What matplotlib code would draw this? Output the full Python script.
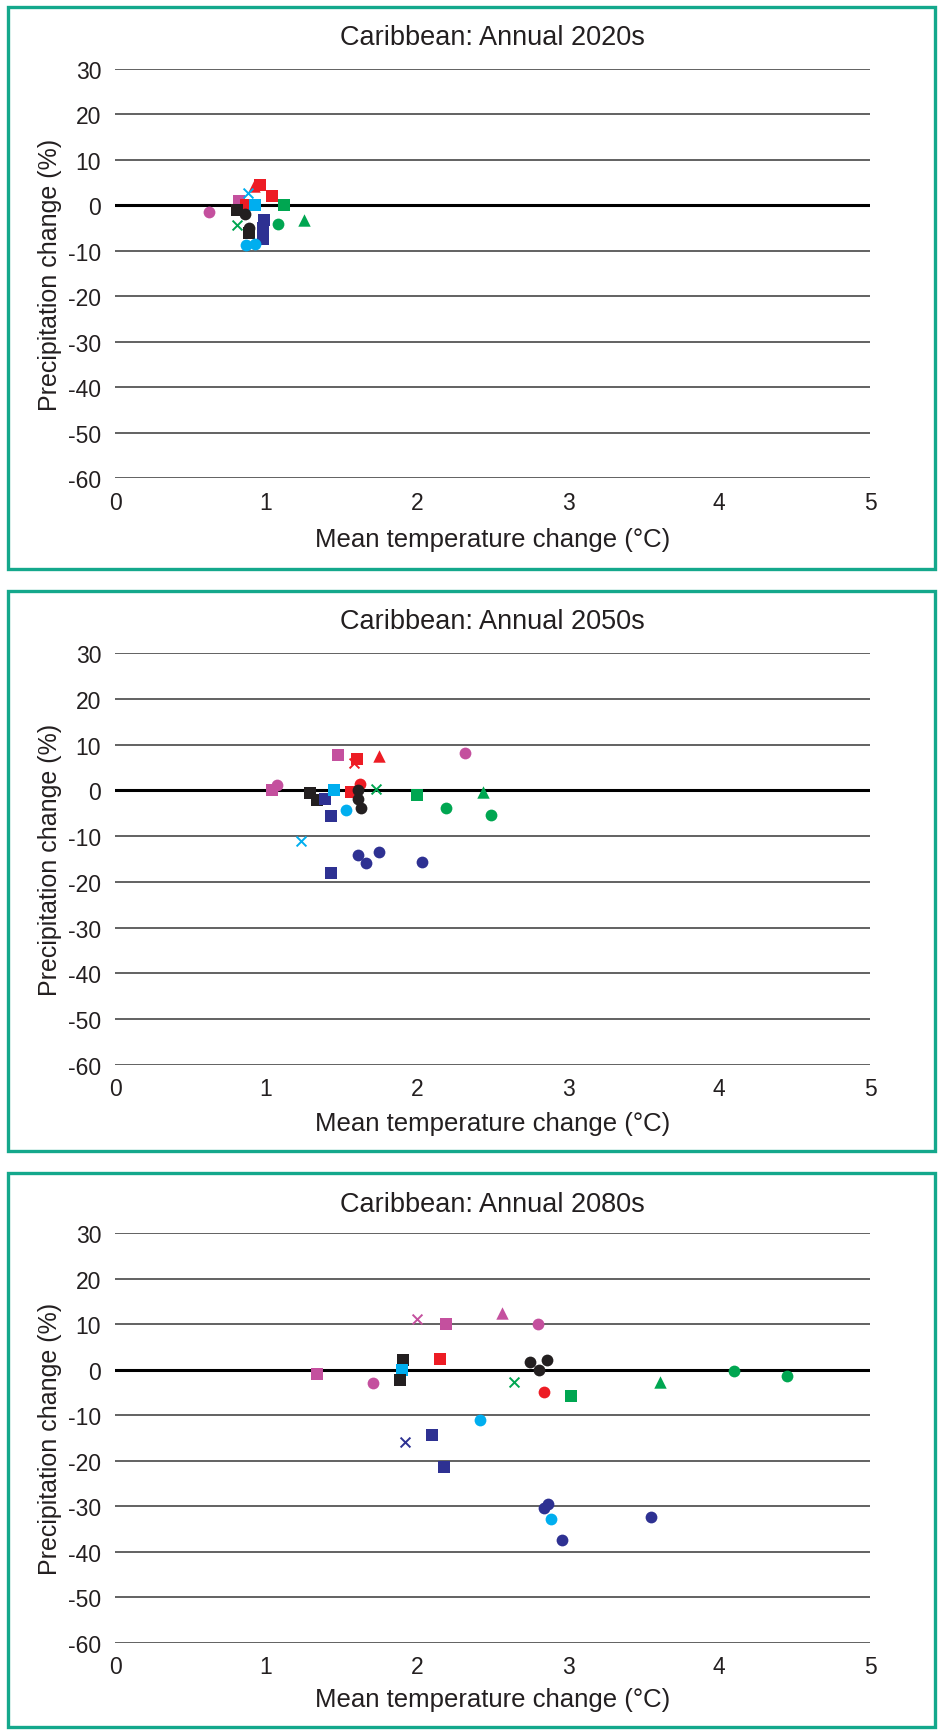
import matplotlib
matplotlib.use("Agg")
import matplotlib.pyplot as plt
from matplotlib.patches import Rectangle

plt.rcParams['font.family'] = ['Liberation Sans', 'DejaVu Sans']
plt.rcParams['axes.unicode_minus'] = False

# colour / marker codes: k black, r red, m magenta, g green, c cyan, n navy
colors = {'k': '#231F20', 'r': '#ED1C24', 'm': '#C4509E',
          'g': '#00A651', 'c': '#00AEEF', 'n': '#2E3192'}

titles = ['Caribbean: Annual 2020s', 'Caribbean: Annual 2050s', 'Caribbean: Annual 2080s']
x_ticks = [0, 1, 2, 3, 4, 5]
y_ticks = [30, 20, 10, 0, -10, -20, -30, -40, -50, -60]

# 2020s
temp_2020 = [0.62, 0.82, 0.92, 0.96, 0.88, 0.87, 0.93, 1.04, 1.12, 0.81, 0.86, 0.81,
             0.89, 0.89, 0.99, 0.98, 0.98, 1.08, 1.25, 0.87, 0.93]
prec_2020 = [-1.4, 0.9, 4.3, 4.5, 2.8, 0.0, 0.0, 2.1, 0.0, -1.1, -2.0, -4.4,
             -4.9, -6.0, -3.3, -5.0, -7.4, -4.2, -3.2, -8.7, -8.5]
col_2020 = ['m', 'm', 'r', 'r', 'c', 'r', 'c', 'r', 'g', 'k', 'k', 'g',
            'k', 'k', 'n', 'n', 'n', 'g', 'g', 'c', 'c']
mk_2020 = ['o', 's', '^', 's', 'x', 's', 's', 's', 's', 's', 'o', 'x',
           'o', 's', 's', 's', 's', 'o', '^', 'o', 'o']

# 2050s
temp_2050 = [1.48, 1.60, 1.58, 1.75, 1.04, 1.07, 1.29, 1.34, 1.39, 1.45, 1.56, 1.62,
             1.61, 1.61, 1.63, 1.73, 1.53, 1.43, 1.23, 1.61, 1.66, 1.75, 1.43,
             2.32, 2.00, 2.19, 2.44, 2.49, 2.03]
prec_2050 = [7.8, 6.8, 6.0, 7.4, 0.1, 1.2, -0.5, -2.2, -1.9, 0.1, -0.3, 1.3,
             0.0, -1.9, -3.9, 0.4, -4.2, -5.7, -11.1, -14.2, -15.8, -13.5, -18.0,
             8.1, -1.0, -3.9, -0.4, -5.3, -15.7]
col_2050 = ['m', 'r', 'r', 'r', 'm', 'm', 'k', 'k', 'n', 'c', 'r', 'r',
            'k', 'k', 'k', 'g', 'c', 'n', 'c', 'n', 'n', 'n', 'n',
            'm', 'g', 'g', 'g', 'g', 'n']
mk_2050 = ['s', 's', 'x', '^', 's', 'o', 's', 's', 's', 's', 's', 'o',
           'o', 'o', 'o', 'x', 'o', 's', 'x', 'o', 'o', 'o', 's',
           'o', 's', 'o', '^', 'o', 'o']

# 2080s
temp_2080 = [1.34, 1.71, 1.91, 1.90, 1.89, 2.00, 2.19, 2.15, 2.56, 2.64, 2.42, 2.10,
             1.92, 2.18, 2.80, 2.75, 2.86, 2.81, 2.84, 3.02, 3.61, 4.10, 4.45,
             2.84, 2.87, 2.89, 3.55, 2.96]
prec_2080 = [-0.9, -2.9, 2.2, 0.0, -2.2, 11.1, 10.1, 2.3, 12.4, -2.7, -11.0, -14.3,
             -15.9, -21.4, 10.0, 1.6, 2.2, 0.0, -4.9, -5.8, -2.6, -0.4, -1.5,
             -30.4, -29.4, -32.8, -32.4, -37.4]
col_2080 = ['m', 'm', 'k', 'c', 'k', 'm', 'm', 'r', 'm', 'g', 'c', 'n',
            'n', 'n', 'm', 'k', 'k', 'k', 'r', 'g', 'g', 'g', 'g',
            'n', 'n', 'c', 'n', 'n']
mk_2080 = ['s', 'o', 's', 's', 's', 'x', 's', 's', '^', 'x', 'o', 's',
           'x', 's', 'o', 'o', 'o', 'o', 'o', 's', '^', 'o', 'o',
           'o', 'o', 'o', 'o', 'o']

panels = [(temp_2020, prec_2020, col_2020, mk_2020),
          (temp_2050, prec_2050, col_2050, mk_2050),
          (temp_2080, prec_2080, col_2080, mk_2080)]

fig = plt.figure(figsize=(9.43, 17.33), dpi=100)
W, H = 943.0, 1733.0

# pixel layout of each panel: (axes top, axes bottom, box top, box bottom, title y, xlabel y)
layout = [(70, 479, 8, 570, 38, 540),
          (654, 1066, 592, 1152, 622, 1124),
          (1234, 1644, 1174, 1728, 1205, 1700)]
ax_left, ax_right = 115, 870

for (temps, precs, cols, mks), title, (at, ab, bt, bb, ty, ly) in zip(panels, titles, layout):
    # teal frame round each chart
    fig.patches.append(Rectangle((8 / W, 1 - bb / H), (935 - 8) / W, (bb - bt) / H,
                                 transform=fig.transFigure, fill=False,
                                 edgecolor='#14A88C', linewidth=2.4))
    ax = fig.add_axes([ax_left / W, 1 - ab / H, (ax_right - ax_left) / W, (ab - at) / H])
    ax.set_xlim(0, 5)
    ax.set_ylim(-60, 30)
    for yv in y_ticks:
        if yv == 0:
            ax.axhline(yv, color='black', linewidth=2.2, zorder=1)
        else:
            ax.axhline(yv, color='#555555', linewidth=1.3, zorder=1)
    for t, p, c, m in zip(temps, precs, cols, mks):
        if m == 'x':
            ax.scatter(t, p, marker='x', s=50, color=colors[c], linewidths=1.4, zorder=3)
        elif m == '^':
            ax.scatter(t, p, marker='^', s=80, color=colors[c], linewidths=0, zorder=3)
        else:
            ax.scatter(t, p, marker=m, s=72, color=colors[c], linewidths=0, zorder=3)
    for s in ax.spines.values():
        s.set_visible(False)
    ax.set_xticks(x_ticks)
    ax.set_yticks(y_ticks)
    ax.tick_params(length=0, labelsize=16.5, colors='#231F20')
    ax.tick_params(axis='x', pad=9)
    ax.tick_params(axis='y', pad=10)
    fig.text(50 / W, 1 - (at + ab) / 2 / H, 'Precipitation change (%)', rotation=90,
             ha='center', va='center', fontsize=18, color='#231F20')
    fig.text((ax_left + ax_right) / 2 / W, 1 - ly / H, 'Mean temperature change (°C)',
             ha='center', va='center', fontsize=18.5, color='#231F20')
    fig.text((ax_left + ax_right) / 2 / W, 1 - ty / H, title,
             ha='center', va='center', fontsize=19.5, color='#231F20')

fig.savefig('out.png', dpi=100)
